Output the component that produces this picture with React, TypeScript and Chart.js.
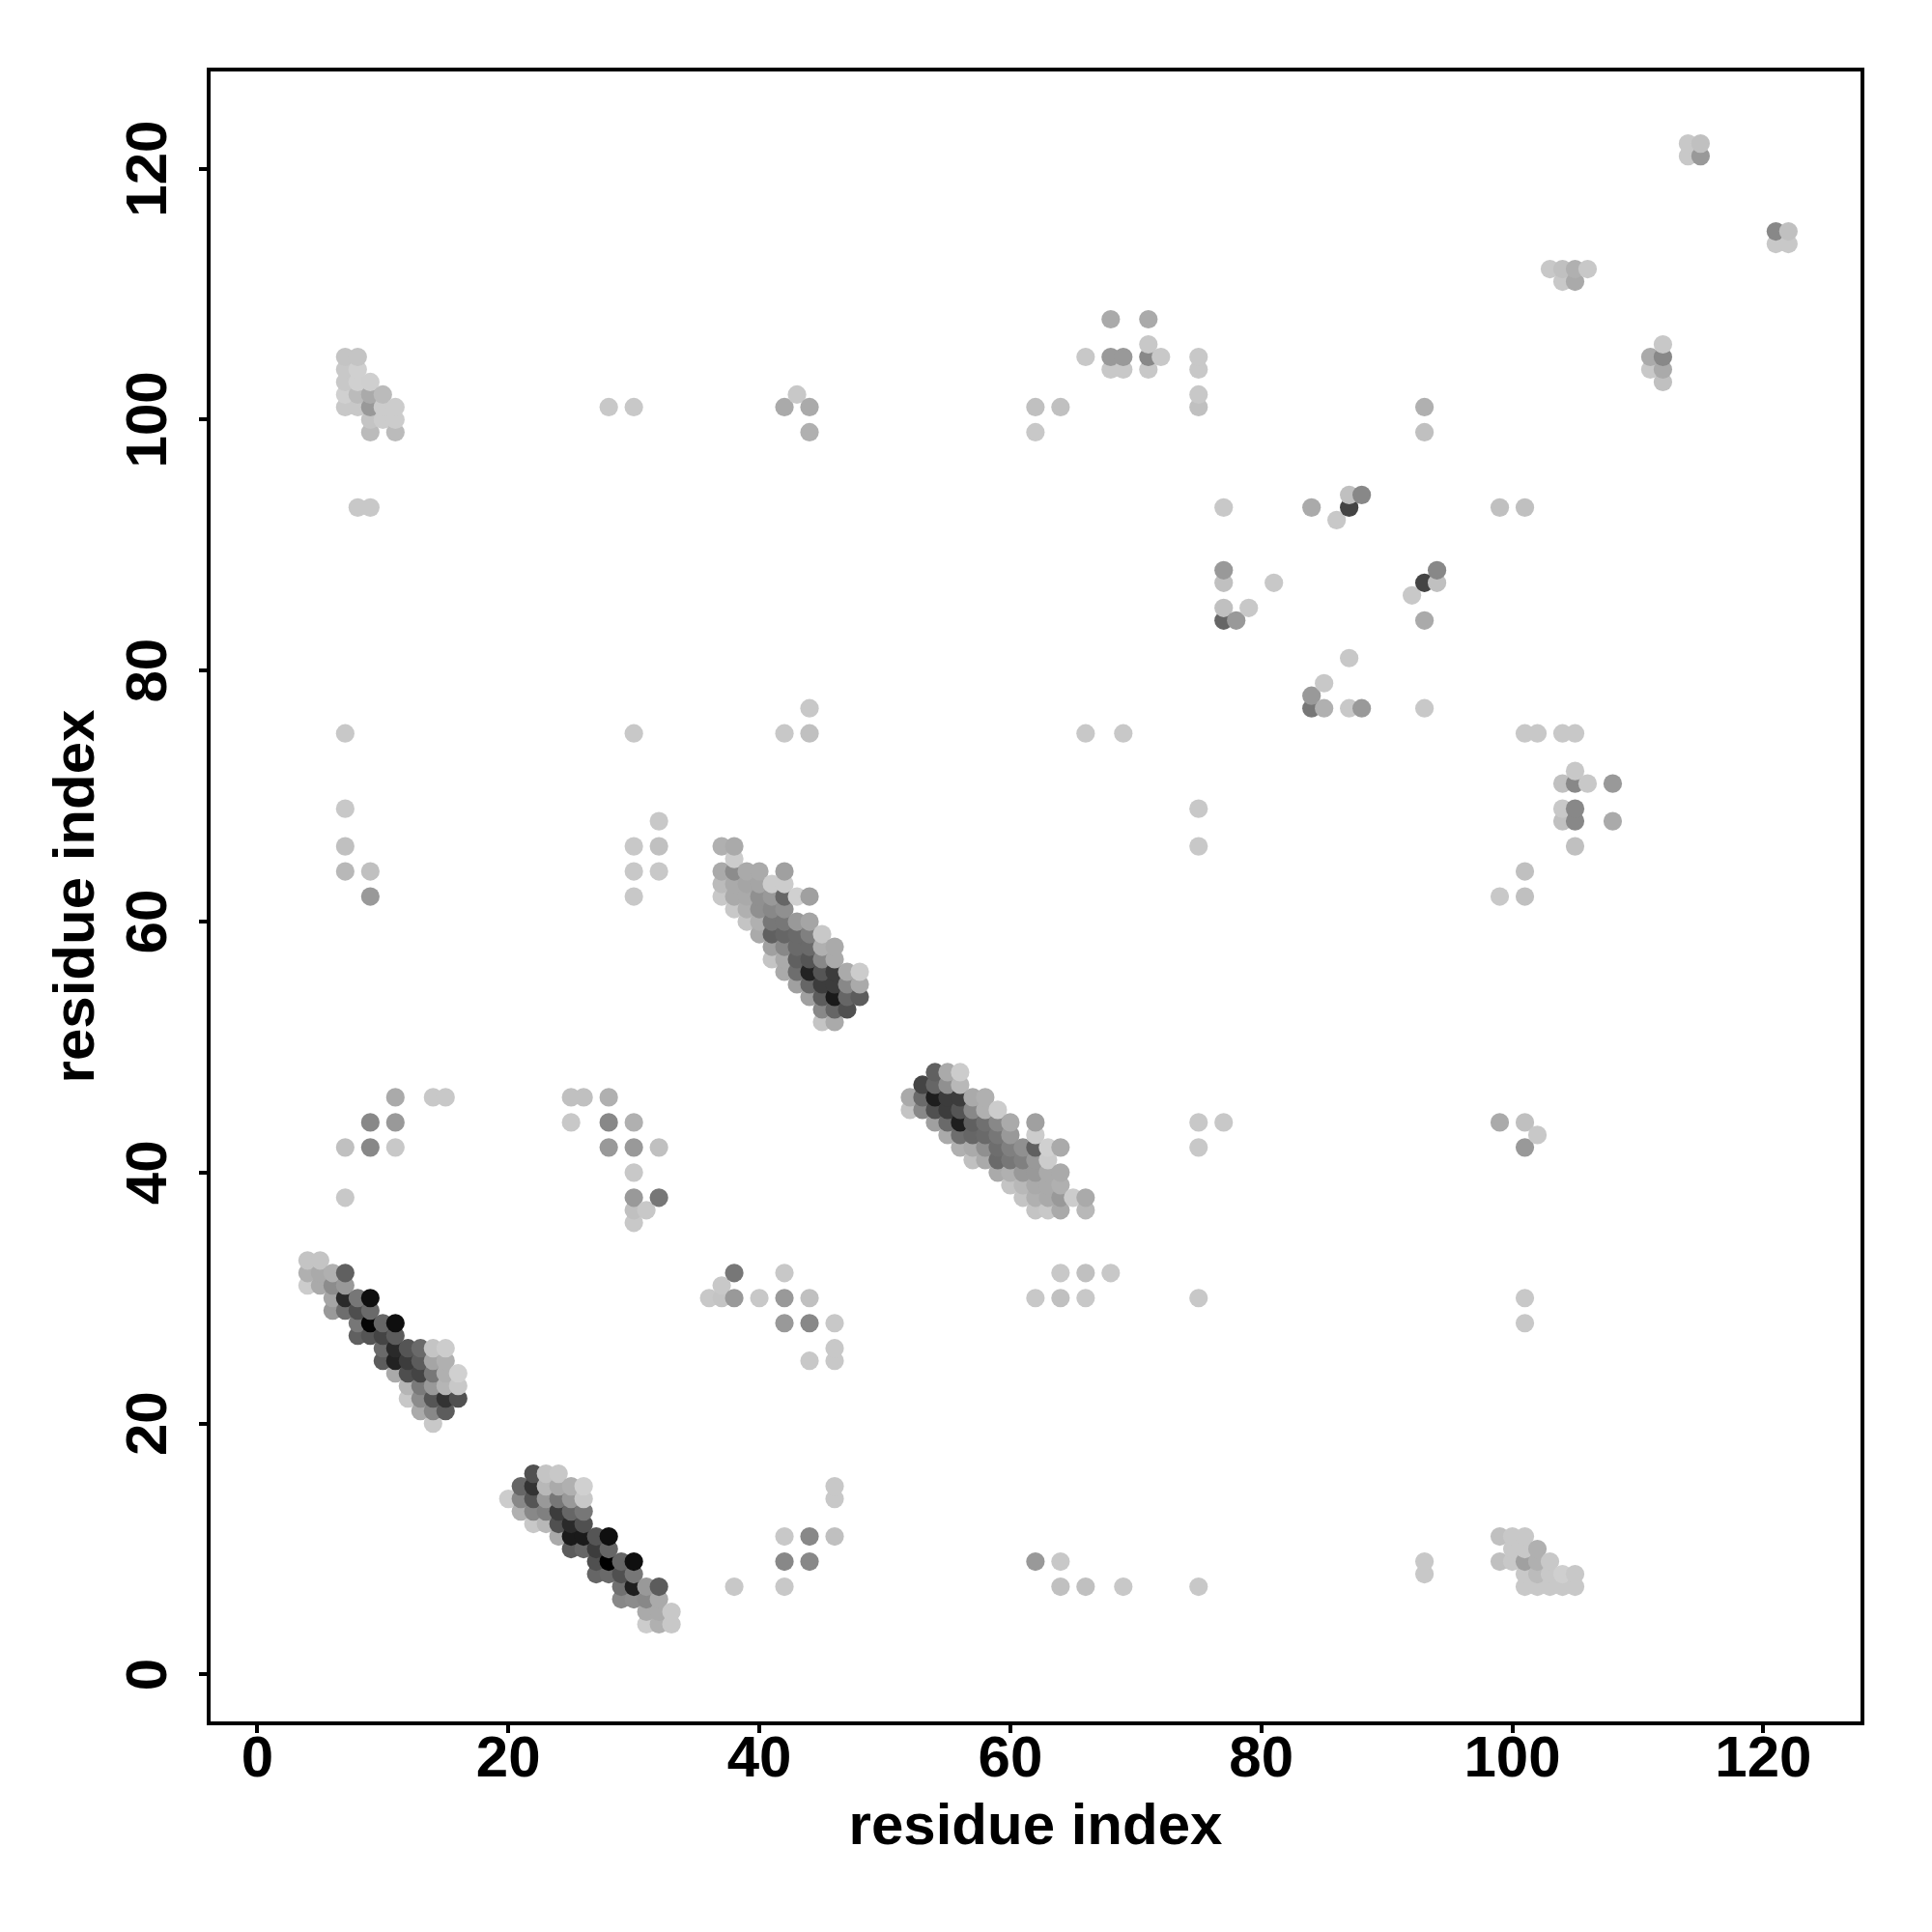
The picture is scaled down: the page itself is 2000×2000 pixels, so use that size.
import React, { useEffect, useRef } from "react";
import { Chart, registerables } from "chart.js";

Chart.register(...registerables);

type Contact = [number, number, number]; // residue x, residue y, gray level

const axisTicks = [0, 20, 40, 60, 80, 100, 120];
const axisTitle = "residue index";

const sheetA: Contact[] = [
  [4,33,196],[5,33,196],
  [4,32,176],[5,32,170],[6,32,176],[7,32,96],
  [4,31,204],[5,31,170],[6,31,140],[7,31,153],
  [6,30,165],[7,30,42],[8,30,119],[9,30,15],
  [6,29,153],[7,29,110],[8,29,78],[9,29,106],
  [8,28,119],[9,28,5],[10,28,102],[11,28,15],
  [8,27,96],[9,27,85],[10,27,68],[11,27,92],
  [10,26,106],[11,26,42],[12,26,85],[13,26,106],[14,26,196],[15,26,204],
  [10,25,92],[11,25,34],[12,25,60],[13,25,92],[14,25,165],[15,25,176],
  [11,24,170],[12,24,78],[13,24,68],[14,24,119],[15,24,176],[16,24,208],
  [12,23,181],[13,23,122],[14,23,153],[15,23,181],[16,23,200],
  [12,22,200],[13,22,140],[14,22,85],[15,22,51],[16,22,80],
  [13,21,170],[14,21,136],[15,21,92],
  [14,20,200],
];

const sheetB: Contact[] = [
  [22,16,80],[23,16,196],[24,16,200],
  [21,15,102],[22,15,51],[23,15,184],[24,15,170],[25,15,176],[26,15,208],
  [20,14,204],[21,14,136],[22,14,85],[23,14,153],[24,14,119],[25,14,153],[26,14,200],
  [21,13,176],[22,13,136],[23,13,128],[24,13,60],[25,13,102],[26,13,119],
  [22,12,200],[23,12,184],[24,12,80],[25,12,42],[26,12,80],
  [24,11,170],[25,11,26],[26,11,26],[27,11,85],[28,11,15],
  [25,10,92],[26,10,102],[27,10,60],[28,10,102],
  [27,9,80],[28,9,0],[29,9,102],[30,9,15],
  [27,8,102],[28,8,106],[29,8,80],[30,8,119],
  [29,7,112],[30,7,30],[31,7,153],[32,7,92],
  [29,6,136],[30,6,140],[31,6,136],[32,6,170],
  [31,5,170],[32,5,170],[33,5,200],
  [31,4,204],[32,4,176],[33,4,200],
];

const sheetC: Contact[] = [
  [37,66,176],[38,66,170],
  [38,65,204],
  [37,64,170],[38,64,140],[39,64,170],[40,64,170],[42,64,160],
  [37,63,187],[38,63,170],[39,63,165],[40,63,165],[41,63,204],[42,63,204],
  [37,62,200],[38,62,170],[39,62,170],[40,62,144],[41,62,153],[42,62,102],[43,62,208],[44,62,160],
  [38,61,200],[39,61,176],[40,61,144],[41,61,136],[42,61,144],
  [39,60,196],[40,60,176],[41,60,119],[42,60,119],[43,60,153],[44,60,165],
  [40,59,170],[41,59,96],[42,59,102],[43,59,106],[44,59,128],[45,59,200],
  [41,58,160],[42,58,136],[43,58,106],[44,58,106],[45,58,176],[46,58,170],
  [41,57,196],[42,57,170],[43,57,96],[44,57,85],[45,57,136],[46,57,170],
  [42,56,170],[43,56,110],[44,56,34],[45,56,85],[46,56,60],[47,56,170],[48,56,204],
  [43,55,160],[44,55,102],[45,55,60],[46,55,60],[47,55,136],[48,55,170],
  [44,54,160],[45,54,92],[46,54,26],[47,54,102],[48,54,92],
  [45,53,136],[46,53,102],[47,53,80],
  [45,52,196],[46,52,170],
];

const sheetD: Contact[] = [
  [54,48,96],[55,48,170],[56,48,204],
  [53,47,68],[54,47,102],[55,47,144],[56,47,184],
  [52,46,170],[53,46,106],[54,46,30],[55,46,60],[56,46,60],[57,46,170],[58,46,176],
  [52,45,196],[53,45,136],[54,45,80],[55,45,60],[56,45,85],[57,45,136],[58,45,176],[59,45,204],
  [54,44,160],[55,44,106],[56,44,30],[57,44,96],[58,44,112],[59,44,136],[60,44,170],[62,44,160],
  [55,43,170],[56,43,110],[57,43,102],[58,43,106],[59,43,119],[60,43,153],[62,43,204],
  [56,42,176],[57,42,170],[58,42,144],[59,42,110],[60,42,128],[61,42,144],[62,42,96],[63,42,208],[64,42,170],
  [57,41,192],[58,41,170],[59,41,106],[60,41,119],[61,41,128],[62,41,153],[63,41,204],
  [59,40,170],[60,40,176],[61,40,153],[62,40,153],[63,40,170],[64,40,170],
  [60,39,196],[61,39,184],[62,39,170],[63,39,170],[64,39,176],
  [61,38,196],[62,38,176],[63,38,170],[64,38,153],[65,38,204],[66,38,170],
  [62,37,196],[63,37,200],[64,37,170],[66,37,184],
];

const patchTopLeft: Contact[] = [
  [7,105,196],[8,105,196],[7,104,200],[8,104,208],[7,103,200],[8,103,208],[9,103,207],
  [7,102,208],[8,102,187],[9,102,170],[10,102,187],
  [7,101,200],[8,101,200],[9,101,153],[10,101,204],[11,101,204],
  [9,100,196],[10,100,204],[11,100,204],[9,99,187],[11,99,187],
  [8,93,200],[9,93,200],
];

const patchBottomRight: Contact[] = [
  [99,11,192],[100,11,200],[101,11,200],
  [100,10,200],[101,10,200],[102,10,176],
  [99,9,192],[100,9,200],[101,9,160],[102,9,176],[103,9,200],
  [101,8,200],[102,8,187],[103,8,200],[104,8,207],[105,8,200],
  [101,7,200],[102,7,200],[103,7,200],[104,7,200],[105,7,200],
  [93,9,200],[93,8,200],
];

const upperContacts: Contact[] = [
  [28,101,200],[30,101,200],[42,101,170],[43,102,200],[44,101,170],[44,99,176],
  [62,101,192],[64,101,192],[62,99,200],[66,105,200],[68,108,170],[68,105,153],[69,105,153],
  [68,104,200],[69,104,200],[71,108,170],[71,106,200],[71,105,136],[72,105,200],[71,104,200],
  [75,105,200],[75,104,200],[75,102,200],[75,101,192],[93,101,176],[93,99,192],
  [103,112,200],[104,112,192],[105,112,176],[106,112,200],[104,111,200],[105,111,170],
  [111,105,170],[112,106,200],[112,105,136],[112,104,170],[111,104,200],[112,103,192],
  [114,122,200],[115,122,192],[114,121,200],[115,121,153],
  [121,115,136],[122,115,192],[121,114,200],[122,114,200],
];

const midRightContacts: Contact[] = [
  [77,93,200],[84,93,170],[86,92,200],[87,93,68],[87,94,192],[88,94,136],[99,93,192],[101,93,192],
  [77,88,153],[77,87,192],[77,85,192],[79,85,200],[77,84,102],[78,84,153],[81,87,200],
  [92,86,200],[93,87,68],[94,88,136],[94,87,192],[93,84,170],
  [84,78,153],[84,77,119],[85,79,200],[85,77,176],[87,81,200],[87,77,200],[88,77,153],[93,77,200],
  [101,75,200],[102,75,200],[104,75,200],[105,75,200],[105,72,200],[104,71,192],[105,71,136],
  [106,71,200],[108,71,153],[104,69,200],[105,69,136],[104,68,192],[105,68,136],[108,68,170],
  [105,66,192],[99,62,200],[101,64,192],[101,62,192],
];

const midLeftContacts: Contact[] = [
  [7,75,200],[7,69,200],[7,66,192],[7,64,184],[9,64,192],[9,62,153],
  [30,75,200],[32,68,200],[30,66,200],[32,66,192],[30,64,200],[32,64,200],[30,62,200],
  [42,75,200],[44,77,200],[44,75,192],[66,75,200],[69,75,200],[75,69,200],[75,66,200],
];

const lowerContacts: Contact[] = [
  [7,42,192],[9,44,136],[11,44,153],[9,42,136],[11,42,200],[11,46,170],[14,46,200],[15,46,200],[7,38,200],
  [25,46,192],[26,46,192],[28,46,176],[25,44,200],[28,44,136],[30,44,176],[28,42,153],[30,42,153],
  [32,42,192],[30,40,200],[30,38,153],[32,38,119],[30,37,192],[31,37,200],[30,36,200],
  [75,44,200],[77,44,200],[75,42,200],[99,44,170],[101,44,192],[102,43,200],[101,42,153],
  [36,30,200],[37,30,196],[37,31,200],[38,32,119],[38,30,153],[40,30,200],[42,32,200],[42,30,153],
  [44,30,192],[42,28,153],[44,28,136],[46,28,200],[46,26,200],[44,25,200],[46,25,200],
  [62,30,200],[64,32,200],[64,30,192],[66,32,192],[66,30,200],[68,32,200],[75,30,200],
  [101,30,200],[101,28,200],
  [46,15,200],[46,14,200],[42,11,200],[44,11,136],[46,11,192],[42,9,136],[44,9,136],[42,7,200],[38,7,200],
  [62,9,153],[64,9,200],[64,7,192],[66,7,192],[69,7,200],[75,7,200],
];

const contacts: Contact[] = [
  ...sheetA, ...sheetB, ...sheetC, ...sheetD, ...patchTopLeft, ...patchBottomRight,
  ...upperContacts, ...midRightContacts, ...midLeftContacts, ...lowerContacts,
].sort((p, q) => p[0] - q[0] || p[1] - q[1]);

const FONT = '"Liberation Sans", Arial, sans-serif';

const frame = {
  id: "frame",
  afterDatasetsDraw(chart: any) {
    const { ctx, chartArea: a } = chart;
    ctx.save();
    ctx.strokeStyle = "#000";
    ctx.lineWidth = 4;
    ctx.strokeRect(a.left, a.top, a.right - a.left, a.bottom - a.top);
    ctx.restore();
  },
};

export default function App() {
  const ref = useRef<HTMLCanvasElement>(null);
  useEffect(() => {
    document.body.style.margin = "0";
    const tickFont = { family: FONT, size: 60, weight: "bold" as const };
    const axisCommon = (min: number, max: number) => ({
      type: "linear" as const,
      min,
      max,
      border: { display: true, color: "#000", width: 4 },
      grid: { display: true, drawOnChartArea: false, drawTicks: true, tickLength: 10, color: "#000", lineWidth: 4 },
      afterBuildTicks: (s: any) => { s.ticks = axisTicks.map((value) => ({ value })); },
    });
    const chart = new Chart(ref.current!, {
      type: "scatter",
      data: {
        datasets: [{
          data: contacts.map(([x, y]) => ({ x, y })),
          backgroundColor: contacts.map(([, , g]) => `rgb(${g},${g},${g})`),
          pointRadius: 9.6,
          pointBorderWidth: 0,
          pointHoverRadius: 9.6,
        }],
      },
      options: {
        animation: false,
        responsive: false,
        devicePixelRatio: 1,
        layout: { padding: { top: 72, right: 72, left: 0, bottom: 0 } },
        plugins: { legend: { display: false }, tooltip: { enabled: false } },
        scales: {
          x: {
            ...axisCommon(-3.88, 127.9),
            afterFit: (s: any) => { s.height = 216; },
            ticks: { font: tickFont, color: "#000", padding: -8, maxRotation: 0, minRotation: 0, autoSkip: false },
            title: { display: true, text: axisTitle, color: "#000", font: tickFont, padding: { top: 0, bottom: 72 } },
          },
          y: {
            ...axisCommon(-3.89, 127.9),
            afterFit: (s: any) => { s.width = 216; },
            ticks: { font: tickFont, color: "#000", padding: 0, minRotation: 90, maxRotation: 90, crossAlign: "center", autoSkip: false },
            title: { display: true, text: axisTitle, color: "#000", font: tickFont, padding: { top: 44, bottom: 0 } },
          },
        },
      },
      plugins: [frame],
    } as any);
    return () => chart.destroy();
  }, []);
  return <canvas ref={ref} width={2000} height={2000} style={{ display: "block" }} />;
}
